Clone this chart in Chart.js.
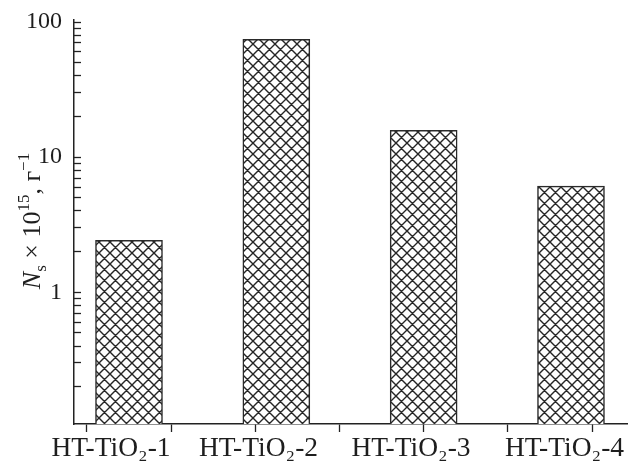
<!DOCTYPE html>
<html>
<head>
<meta charset="utf-8">
<script src="https://cdn.jsdelivr.net/npm/chart.js@4/dist/chart.umd.min.js"></script>
<style>
  html, body { margin: 0; padding: 0; background: #fff; }
  #wrap { width: 628px; height: 465px; position: relative; }
</style>
</head>
<body>
<div id="wrap"><canvas id="c"></canvas></div>
<script>
// ---- data ----
const categories = ["HT-TiO\u2082-1", "HT-TiO\u2082-2", "HT-TiO\u2082-3", "HT-TiO\u2082-4"];
const values = [2.42, 74.5, 15.8, 6.1];
const yTickValues = [0.2,0.3,0.4,0.5,0.6,0.7,0.8,0.9,1,2,3,4,5,6,7,8,9,10,20,30,40,50,60,70,80,90,100];
const yTickLabels = { 1: "1", 10: "10", 100: "100" };
const xTickMarks = [-2/7, 2/7, 6/7, 10/7, 2, 18/7, 22/7];
const xLabelAt = [-0.122, 0.879, 1.914, 2.956];

const FONT = '"Liberation Serif", "Times New Roman", "DejaVu Serif", serif';
const INK = '#1e1e1e';

function makePattern() {
  const s = 11;
  const c = document.createElement('canvas');
  c.width = s; c.height = s;
  const g = c.getContext('2d');
  g.fillStyle = '#fff';
  g.fillRect(0, 0, s, s);
  g.strokeStyle = '#262626';
  g.lineWidth = 1.4;
  g.beginPath();
  for (let k = -1; k <= 1; k++) {
    g.moveTo(k * s, 0); g.lineTo(k * s + s, s);
    g.moveTo(k * s, s); g.lineTo(k * s + s, 0);
  }
  g.stroke();
  return document.getElementById('c').getContext('2d').createPattern(c, 'repeat');
}

const near = (a, b) => Math.abs(a - b) < 1e-6;
const xAllTicks = [...xTickMarks, ...xLabelAt].sort((a, b) => a - b);
const isMark = v => xTickMarks.some(m => near(m, v));
const labelFor = v => { const i = xLabelAt.findIndex(p => near(p, v)); return i >= 0 ? categories[i] : ''; };

const yTitlePlugin = {
  id: 'yTitle',
  afterDraw(chart) {
    const ctx = chart.ctx;
    const a = chart.chartArea;
    const parts = [
      { t: 'N', f: 'italic 26px ' + FONT, dy: 0 },
      { t: 's', f: '17px ' + FONT, dy: 6 },
      { t: ' \u00d7 10', f: '26px ' + FONT, dy: 0 },
      { t: '15', f: '17px ' + FONT, dy: -11 },
      { t: ', \u0433', f: '26px ' + FONT, dy: 0 },
      { t: '\u22121', f: '17px ' + FONT, dy: -11 }
    ];
    ctx.save();
    let total = 0;
    parts.forEach(p => { ctx.font = p.f; p.w = ctx.measureText(p.t).width; total += p.w; });
    ctx.translate(a.left - 34, 221);
    ctx.rotate(-Math.PI / 2);
    ctx.fillStyle = INK;
    ctx.textBaseline = 'alphabetic';
    let x = -total / 2;
    parts.forEach(p => { ctx.font = p.f; ctx.fillText(p.t, x, p.dy); x += p.w; });
    ctx.restore();
  }
};

const chart = new Chart(document.getElementById('c'), {
  type: 'bar',
  data: {
    datasets: [{
      data: values.map((v, i) => ({ x: i, y: v })),
      backgroundColor: makePattern(),
      borderColor: '#2a2a2a',
      borderWidth: 1.5,
      borderSkipped: 'bottom',
      barThickness: 67
    }]
  },
  options: {
    responsive: true,
    maintainAspectRatio: false,
    animation: false,
    layout: { padding: { left: 24, top: 20, right: 0, bottom: 0 } },
    plugins: { legend: { display: false }, tooltip: { enabled: false } },
    scales: {
      x: {
        type: 'linear',
        offset: false,
        bounds: 'data',
        min: -0.3733,
        max: 3.387,
        afterBuildTicks: s => { s.ticks = xAllTicks.map(v => ({ value: v })); },
        afterFit: s => { s.height = 41; s.paddingLeft = 0; s.paddingRight = 0; },
        ticks: {
          autoSkip: false,
          maxRotation: 0,
          minRotation: 0,
          padding: 3,
          color: INK,
          font: { family: FONT, size: 27.5, lineHeight: 1.0 },
          callback: v => labelFor(v)
        },
        grid: {
          offset: false,
          drawOnChartArea: false,
          tickLength: 8,
          tickWidth: 1.3,
          tickColor: ctx => (ctx.tick && isMark(ctx.tick.value)) ? '#222' : 'rgba(0,0,0,0)'
        },
        border: { color: '#222', width: 1.5 }
      },
      y: {
        type: 'logarithmic',
        min: 0.106,
        max: 103.5,
        afterBuildTicks: s => { s.ticks = yTickValues.map(v => ({ value: v })); },
        afterFit: s => { s.width = 50; s.paddingTop = 0; s.paddingBottom = 0; },
        ticks: {
          autoSkip: false,
          padding: 19,
          color: INK,
          font: { family: FONT, size: 24 },
          callback: v => yTickLabels[v] || ''
        },
        grid: {
          drawOnChartArea: false,
          tickLength: -7,
          tickWidth: 1.3,
          tickColor: '#222'
        },
        border: { color: '#222', width: 1.5 }
      }
    }
  },
  plugins: [yTitlePlugin]
});
</script>
</body>
</html>
